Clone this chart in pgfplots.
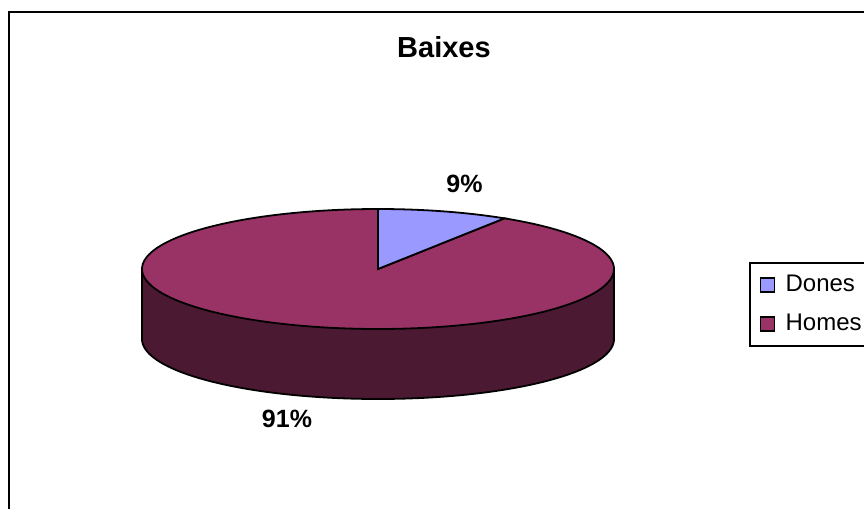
\documentclass[border=0pt]{standalone}
\usepackage{pgfplots}
\pgfplotsset{compat=1.18}
\usepackage{pgfplotstable}
\usepackage{fontspec}
\setmainfont{Liberation Sans}
\definecolor{donesc}{HTML}{9999FF}
\definecolor{homesc}{HTML}{993366}
\definecolor{sidec}{HTML}{4C1933}

\pgfplotstableread{
label value
Dones 9
Homes 91
}\piedata

\begin{document}%
\begin{tikzpicture}
\pgfplotstablegetelem{0}{value}\of\piedata \let\vD\pgfplotsretval
\pgfplotstablegetelem{1}{value}\of\piedata \let\vH\pgfplotsretval
\pgfmathsetmacro\aS{90}
\pgfmathsetmacro\aD{90-3.6*\vD}
\pgfmathsetmacro\aH{\aD-3.6*\vH}
\def\cx{378}\def\cy{269}\def\rx{236}\def\ry{60}\def\dep{70}
\useasboundingbox (0,0) rectangle (432pt,254.5pt);
\clip (0,0) rectangle (432pt,254.5pt);
\begin{axis}[
  at={(0,0)}, anchor=south west,
  scale only axis, width=432pt, height=254.5pt,
  xmin=0, xmax=864, ymin=0, ymax=509, y dir=reverse,
  hide axis, clip=false,
  legend image code/.code={\draw[#1, line width=0.6pt] (0pt,-0.5pt) rectangle (7pt,6.5pt); \path (12pt,0pt);},
  legend style={at={(axis cs:749,262)}, anchor=north west, draw=black, line width=1pt,
    font=\fontsize{12}{14}\selectfont, inner xsep=5pt, inner ysep=5pt, row sep=7.5pt,
    cells={anchor=base west},
    nodes={inner sep=0pt, text height=9pt, text depth=3pt}},
]
% frame
\draw[line width=1pt] (axis cs:9,12) rectangle (axis cs:920,600);
% side (front) of the Homes slice
\addplot[fill=sidec, draw=black, line width=0.9pt, domain=180:360, samples=120, variable=\t, forget plot]
  ({\cx+\rx*cos(\t)}, {\cy+\dep-\ry*sin(\t)}) -- (axis cs:\cx+\rx,\cy) -- (axis cs:\cx-\rx,\cy) -- cycle;
% top faces
\addplot[fill=homesc, draw=black, line width=0.9pt, domain=\aH:\aD, samples=200, variable=\t, forget plot]
  ({\cx+\rx*cos(\t)}, {\cy-\ry*sin(\t)}) -- (axis cs:\cx,\cy) -- cycle;
\addplot[fill=donesc, draw=black, line width=0.9pt, domain=\aD:\aS, samples=40, variable=\t, forget plot]
  ({\cx+\rx*cos(\t)}, {\cy-\ry*sin(\t)}) -- (axis cs:\cx,\cy) -- cycle;
\addlegendimage{fill=donesc, draw=black}
\addlegendentry{Dones}
\addlegendimage{fill=homesc, draw=black}
\addlegendentry{Homes}
% texts
\node[anchor=base, font=\fontsize{14.5}{17}\selectfont\bfseries] at (axis cs:444,57) {Baixes};
\node[anchor=base, font=\fontsize{12.5}{15}\selectfont\bfseries] at (axis cs:464.5,192) {\vD\%};
\node[anchor=base, font=\fontsize{12.5}{15}\selectfont\bfseries] at (axis cs:287,427) {\vH\%};
\end{axis}
\end{tikzpicture}%
\end{document}
